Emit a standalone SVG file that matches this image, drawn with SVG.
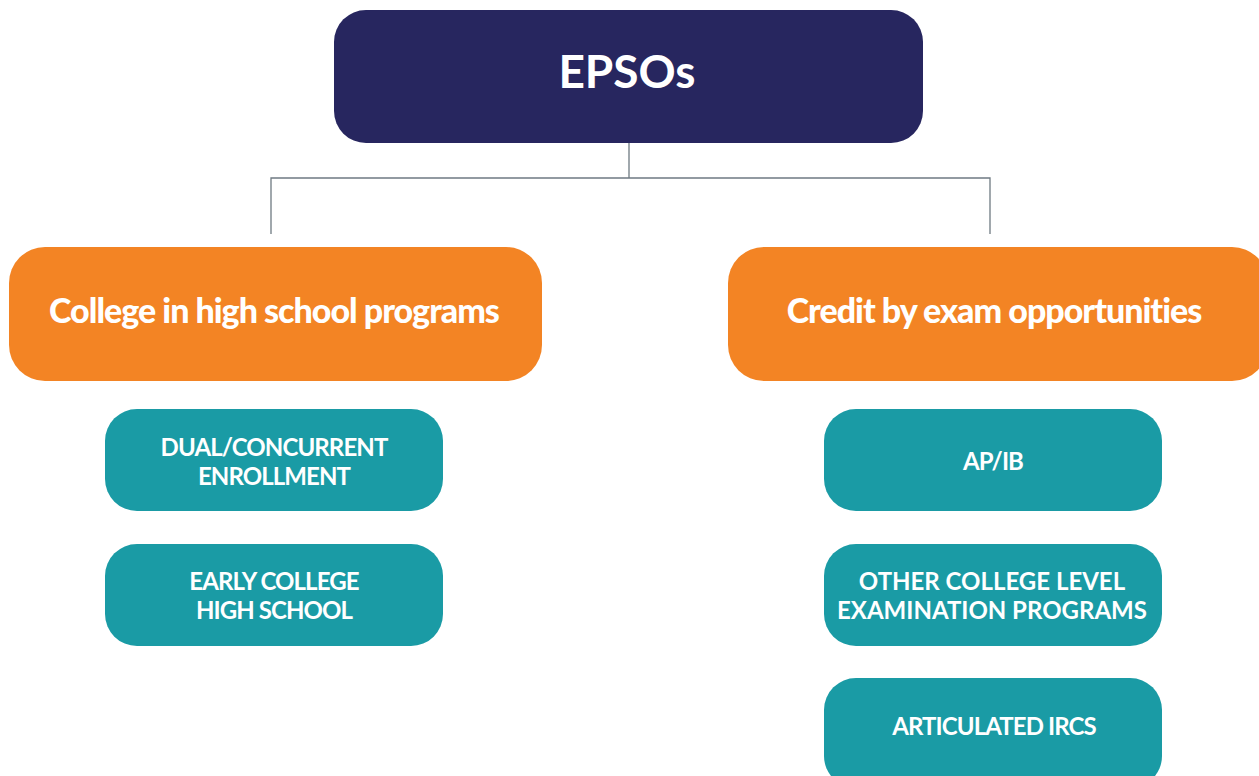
<svg xmlns="http://www.w3.org/2000/svg" width="1259" height="776" viewBox="0 0 1259 776">
<style>
text{font-family:Lato,"Open Sans","Liberation Sans",sans-serif;font-weight:bold;fill:#fff;text-anchor:middle;font-variant-ligatures:none}
.top{fill:#27265f}
.mid{fill:#f38424}
.leaf{fill:#1a9ba5}
.t1{font-size:46px}
.t2{font-size:34px;font-weight:900;letter-spacing:-1px}
.t3{font-size:24px;letter-spacing:-0.9px}
.wide{letter-spacing:0}
.conn{fill:none;stroke:#6f7a82;stroke-width:1.3}
</style>
<rect width="1259" height="776" fill="#fff"/>
<g id="connectors">
<path class="conn" d="M629,143 V178 M271,234 V178 H990 V234"/>
</g>
<g id="epsos"><rect class="top" x="334" y="10" width="589" height="133" rx="32"/><text class="t1" x="627" y="88">EPSOs</text></g>
<g id="college"><rect class="mid" x="9" y="247" width="533" height="134" rx="36"/><text class="t2" x="274" y="323">College in high school programs</text></g>
<g id="credit"><rect class="mid" x="728" y="247" width="540" height="134" rx="36"/><text class="t2" x="994" y="323">Credit by exam opportunities</text></g>
<g id="dual"><rect class="leaf" x="105" y="409" width="338" height="102" rx="32"/><text class="t3" x="274" y="456">DUAL/CONCURRENT</text><text class="t3" x="274" y="485">ENROLLMENT</text></g>
<g id="early"><rect class="leaf" x="105" y="544" width="338" height="102" rx="32"/><text class="t3" x="274" y="590">EARLY COLLEGE</text><text class="t3" x="274" y="619">HIGH SCHOOL</text></g>
<g id="apib"><rect class="leaf" x="824" y="409" width="338" height="102" rx="32"/><text class="t3" x="993" y="470">AP/IB</text></g>
<g id="other"><rect class="leaf" x="824" y="544" width="338" height="102" rx="32"/><text class="t3 wide" x="992" y="590">OTHER COLLEGE LEVEL</text><text class="t3 wide" x="992" y="619">EXAMINATION PROGRAMS</text></g>
<g id="irc"><rect class="leaf" x="824" y="678" width="338" height="110" rx="32"/><text class="t3" x="994" y="735">ARTICULATED IRCS</text></g>
</svg>
